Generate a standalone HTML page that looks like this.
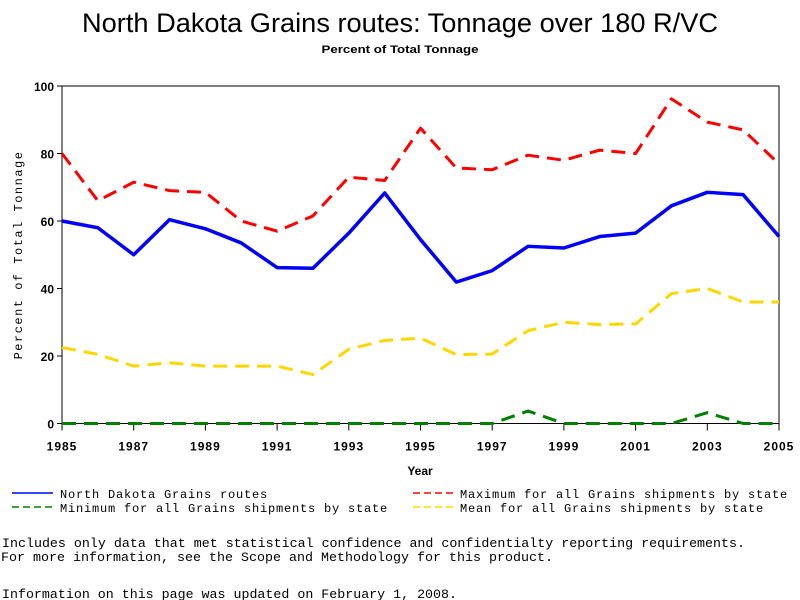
<!DOCTYPE html>
<html><head><meta charset="utf-8"><style>
body{margin:0;background:#fff;}
svg{display:block;}
</style></head><body>
<svg id="chart" width="800" height="600" xmlns="http://www.w3.org/2000/svg">
<text x="400" y="32" text-anchor="middle" font-family="Liberation Sans, sans-serif" font-size="27" textLength="636" lengthAdjust="spacingAndGlyphs">North Dakota Grains routes: Tonnage over 180 R/VC</text>
<text x="400" y="53" text-anchor="middle" font-family="Liberation Sans, sans-serif" font-size="11" font-weight="bold" textLength="157" lengthAdjust="spacingAndGlyphs">Percent of Total Tonnage</text>
<g id="plot"></g>
<text x="420" y="475" text-anchor="middle" font-family="Liberation Sans, sans-serif" font-size="12" font-weight="bold">Year</text>
<text transform="translate(22,255) rotate(-90)" text-anchor="middle" font-family="Liberation Mono, monospace" font-size="12" letter-spacing="1.5">Percent of Total Tonnage</text>
<g font-family="Liberation Mono, monospace" font-size="12" letter-spacing="0.8">
<g><line x1="12" y1="493" x2="53" y2="493" stroke="#0000ff" stroke-width="1.5"/><text x="60" y="498">North Dakota Grains routes</text></g>
<g><line x1="413" y1="493" x2="455" y2="493" stroke="#ff0000" stroke-width="1.5" stroke-dasharray="7,4"/><text x="460" y="498">Maximum for all Grains shipments by state</text></g>
<g><line x1="12" y1="507" x2="53" y2="507" stroke="#008000" stroke-width="1.5" stroke-dasharray="7,4"/><text x="60" y="512">Minimum for all Grains shipments by state</text></g>
<g><line x1="413" y1="507" x2="455" y2="507" stroke="#ffd700" stroke-width="1.5" stroke-dasharray="7,4"/><text x="460" y="512">Mean for all Grains shipments by state</text></g>
</g>
<g font-family="Liberation Mono, monospace" font-size="13">
<text x="2" y="547" textLength="743" lengthAdjust="spacingAndGlyphs">Includes only data that met statistical confidence and confidentialty reporting requirements.</text>
<text x="1" y="561" textLength="552" lengthAdjust="spacingAndGlyphs">For more information, see the Scope and Methodology for this product.</text>
<text x="2" y="598" textLength="455" lengthAdjust="spacingAndGlyphs">Information on this page was updated on February 1, 2008.</text>
</g>
</svg>
<script>
const years=[1985,1986,1987,1988,1989,1990,1991,1992,1993,1994,1995,1996,1997,1998,1999,2000,2001,2002,2003,2004,2005];
const ndValues=[60,58,50,60.4,57.7,53.5,46.2,46,56.4,68.3,54.5,41.9,45.3,52.5,52,55.4,56.4,64.5,68.5,67.8,55.4];
const maxValues=[80,66,71.5,69,68.5,60,57,61.5,73,72,87.5,75.7,75.2,79.5,78,81,80,96.2,89.3,87,76.9];
const minValues=[0,0,0,0,0,0,0,0,0,0,0,0,0,3.7,0,0,0,0,3.2,0,0];
const meanValues=[22.5,20.5,17,18,17,17,17,14.5,22,24.6,25.3,20.4,20.6,27.5,30,29.3,29.5,38.5,40,36,36];
const yTicks=[0,20,40,60,80,100];
const xTickLabels=[1985,1987,1989,1991,1993,1995,1997,1999,2001,2003,2005];
const X0=62,X1=779,Y0=423.5,Y1=86;
const xs=v=>X0+(v-1985)/(2005-1985)*(X1-X0);
const ys=v=>Y0-(v/100)*(Y0-Y1);
const NS='http://www.w3.org/2000/svg';
const plot=document.getElementById('plot');
function mk(tag,attrs){const e=document.createElementNS(NS,tag);for(const k in attrs)e.setAttribute(k,attrs[k]);plot.appendChild(e);return e;}
const frame=mk('rect',{x:X0,y:Y1,width:X1-X0,height:Y0-Y1,fill:'none',stroke:'#000','stroke-width':1});


yTicks.forEach(t=>{
 const tk=mk('line',{x1:X0-5,x2:X0,y1:ys(t),y2:ys(t),stroke:'#000'});
 
 
 const lb=mk('text',{x:X0-8,y:ys(t)+5,'text-anchor':'end','font-family':'Liberation Sans, sans-serif','font-size':12,'font-weight':'bold'});
 lb.textContent=t;
 
 
});
xTickLabels.forEach(t=>{
 const tk=mk('line',{x1:xs(t),x2:xs(t),y1:Y0,y2:Y0+7,stroke:'#000'});
 
 
 const lb=mk('text',{x:xs(t),y:Y0+27,'text-anchor':'middle','font-family':'Liberation Sans, sans-serif','font-size':12,'font-weight':'bold','letter-spacing':'1'});
 lb.textContent=t;
 
 
});
function series(vals,color,w,dash,name){
 const p=mk('polyline',{points:vals.map((v,i)=>xs(years[i])+','+ys(v)).join(' '),fill:'none',stroke:color,'stroke-width':w,'stroke-dasharray':dash,'stroke-linejoin':'round'});
 
 
}
series(minValues,'#008000',3,'14,8','line-minimum');
series(meanValues,'#ffd700',3,'14,8','line-mean');
series(maxValues,'#ff0000',3,'14,8','line-maximum');
series(ndValues,'#0000ff',3.5,'none','line-north-dakota');
</script>
</body></html>
